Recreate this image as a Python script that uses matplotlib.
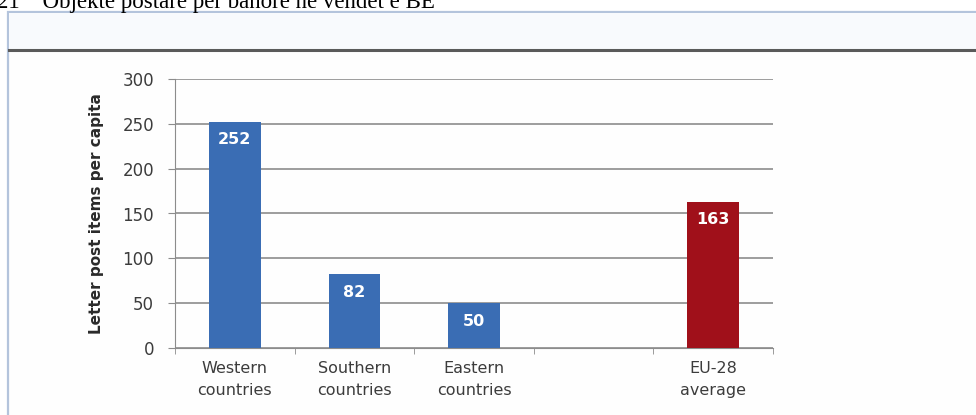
import numpy as np
import matplotlib.pyplot as plt
from matplotlib.patches import Rectangle
from matplotlib.lines import Line2D

categories = ["Western\ncountries", "Southern\ncountries", "Eastern\ncountries", "", "EU-28\naverage"]
values = [252, 82, 50, np.nan, 163]
bar_colors = ["#3a6db4", "#3a6db4", "#3a6db4", "#3a6db4", "#a0101a"]
yticks = [0, 50, 100, 150, 200, 250, 300]
title = "21    Objekte postare per banore ne vendet e BE"
ylabel = "Letter post items per capita"

W, H = 976, 415
fig = plt.figure(figsize=(W / 100, H / 100), dpi=100)
fig.patch.set_facecolor("white")

# page title, cut at the top
fig.text(-3 / W, 1 - 8 / H, title, fontsize=16.5, family="Liberation Serif",
         va="baseline", ha="left", color="black")

# frame round the chart
fig.patches.append(Rectangle((8 / W, -0.01), 1, 1.01 - 12 / H, transform=fig.transFigure,
                             facecolor="#fefefe", edgecolor="#b4c4dc", lw=1.6, zorder=-3))
fig.patches.append(Rectangle((9 / W, 1 - 50 / H), 1, 37 / H, transform=fig.transFigure,
                             facecolor="#f8fafd", edgecolor="none", zorder=-2))
fig.lines.append(Line2D([9 / W, 1], [1 - 50 / H, 1 - 50 / H], transform=fig.transFigure,
                        color="#5a5a5a", lw=2.2, zorder=-1))

ax = fig.add_axes([175 / W, 1 - 348 / H, 598 / W, 269 / H])
ax.set_facecolor("none")
x = np.arange(len(categories))
bars = ax.bar(x, values, width=0.43, color=bar_colors, zorder=3)
for xi, v in zip(x, values):
    if not np.isnan(v):
        ax.text(xi, v - 20, f"{v:.0f}", ha="center", va="center", color="white",
                fontsize=11.5, fontweight="bold", zorder=4)

ax.set_xlim(-0.5, len(categories) - 0.5)
ax.set_ylim(0, 300)
ax.set_yticks(yticks)
ax.yaxis.grid(True, color="#8c8c8c", lw=1.2, zorder=0)
ax.set_xticks(x)
ax.set_xticklabels(categories, fontsize=11.5, color="#3c3c3c", linespacing=1.6)
ax.set_xticks(np.arange(-0.5, len(categories)), minor=True)
ax.tick_params(axis="x", which="major", length=0, pad=9)
ax.tick_params(axis="x", which="minor", length=4, color="#8c8c8c", direction="out")
ax.tick_params(axis="y", length=5, color="#8c8c8c", labelsize=12, labelcolor="#3c3c3c", pad=10)
for s in ["top", "right"]:
    ax.spines[s].set_visible(False)
ax.spines["left"].set_color("#8c8c8c")
ax.spines["bottom"].set_color("#8c8c8c")
ax.set_ylabel(ylabel, fontsize=11, fontweight="bold", color="#2a2a2a", labelpad=13)

fig.savefig("out.png", dpi=100)
